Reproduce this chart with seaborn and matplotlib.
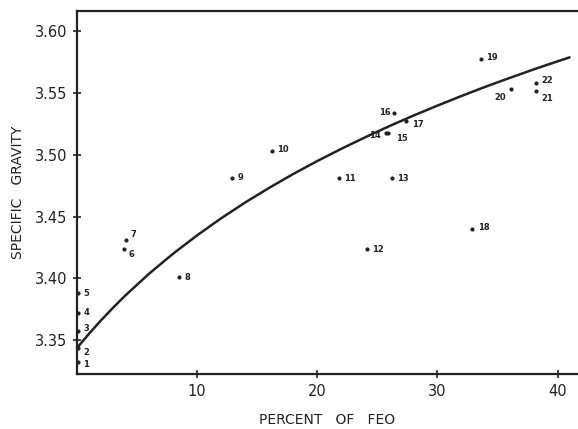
import matplotlib
matplotlib.use("Agg")
import matplotlib.pyplot as plt
import seaborn as sns
import pandas as pd

# ---- data ----
sample_ids = [str(i) for i in range(1, 23)]
feo_pct = [0.05, 0.05, 0.05, 0.05, 0.05, 3.9, 4.1, 8.5, 12.9, 16.2, 21.8,
           24.1, 26.2, 25.7, 25.9, 26.4, 27.4, 32.9, 33.6, 36.1, 38.2, 38.2]
spec_grav = [3.332, 3.3435, 3.357, 3.372, 3.388, 3.424, 3.431, 3.401, 3.4815,
             3.503, 3.481, 3.4235, 3.481, 3.518, 3.518, 3.5336, 3.5276, 3.440,
             3.578, 3.553, 3.5517, 3.5584]

# trend curve
curve_x = [0, 1, 2, 3, 4, 6, 8, 10, 12, 14, 16, 18, 20, 22, 24, 26, 28, 30,
           32, 34, 36, 38, 40, 41]
curve_y = [3.3435, 3.3550, 3.3659, 3.3761, 3.3858, 3.4037, 3.4199, 3.4348,
           3.4486, 3.4614, 3.4733, 3.4845, 3.4950, 3.5049, 3.5143, 3.5233,
           3.5318, 3.5399, 3.5477, 3.5552, 3.5623, 3.5692, 3.5758, 3.5790]

x_ticks = [10, 20, 30, 40]
y_ticks = [3.35, 3.40, 3.45, 3.50, 3.55, 3.60]
y_ticklabels = ["3.35", "3.40", "3.45", "3.50", "3.55", "3.60"]

# label offsets (points) for each sample number
label_offsets = {
    "1": (4, -2), "2": (4, -3), "3": (4, 2), "4": (4, 0), "5": (4, 0),
    "6": (3, -4), "7": (3, 4), "8": (4, 0), "9": (4, 0), "10": (4, 1),
    "11": (4, 0), "12": (4, 0), "13": (4, 0), "14": (-12, -2),
    "15": (6, -4), "16": (-11, 1), "17": (4, -3), "18": (4, 1),
    "19": (4, 1), "20": (-12, -6), "21": (4, -5), "22": (4, 2),
}

df = pd.DataFrame({"id": sample_ids, "feo": feo_pct, "sg": spec_grav})
cdf = pd.DataFrame({"feo": curve_x, "sg": curve_y})

sns.set_style("white")
plt.rcParams["font.family"] = ["DejaVu Sans"]

ink = "#222222"
fig = plt.figure(figsize=(5.78, 4.29), dpi=100)
ax = fig.add_axes([0.1332, 0.1282, 0.8668, 0.8462])

sns.lineplot(data=cdf, x="feo", y="sg", ax=ax, color=ink, linewidth=1.8,
             sort=True, clip_on=False)
sns.scatterplot(data=df, x="feo", y="sg", ax=ax, color=ink, s=9,
                edgecolor=ink, linewidth=0, clip_on=False, zorder=5)

for sid, xv, yv in zip(sample_ids, feo_pct, spec_grav):
    dx, dy = label_offsets[sid]
    ax.annotate(sid, (xv, yv), xytext=(dx, dy), textcoords="offset points",
                fontsize=6, color=ink, ha="left", va="center",
                fontweight="bold", annotation_clip=False)

ax.set_xlim(0, 41.7)
ax.set_ylim(3.3224, 3.6166)
ax.set_xticks(x_ticks)
ax.set_xticklabels([str(t) for t in x_ticks])
ax.set_yticks(y_ticks)
ax.set_yticklabels(y_ticklabels)

for side in ["left", "bottom", "top"]:
    ax.spines[side].set_visible(True)
    ax.spines[side].set_color(ink)
    ax.spines[side].set_linewidth(1.6)
ax.spines["right"].set_visible(False)

ax.tick_params(axis="both", which="major", direction="inout", length=6,
               width=1.2, color=ink, labelsize=10.5, labelcolor=ink, pad=4,
               bottom=True, left=True)

ax.set_xlabel("PERCENT   OF   FEO", fontsize=10, color=ink, labelpad=10)
ax.set_ylabel("SPECIFIC   GRAVITY", fontsize=10, color=ink, labelpad=7)

fig.savefig("out.png", dpi=100)
